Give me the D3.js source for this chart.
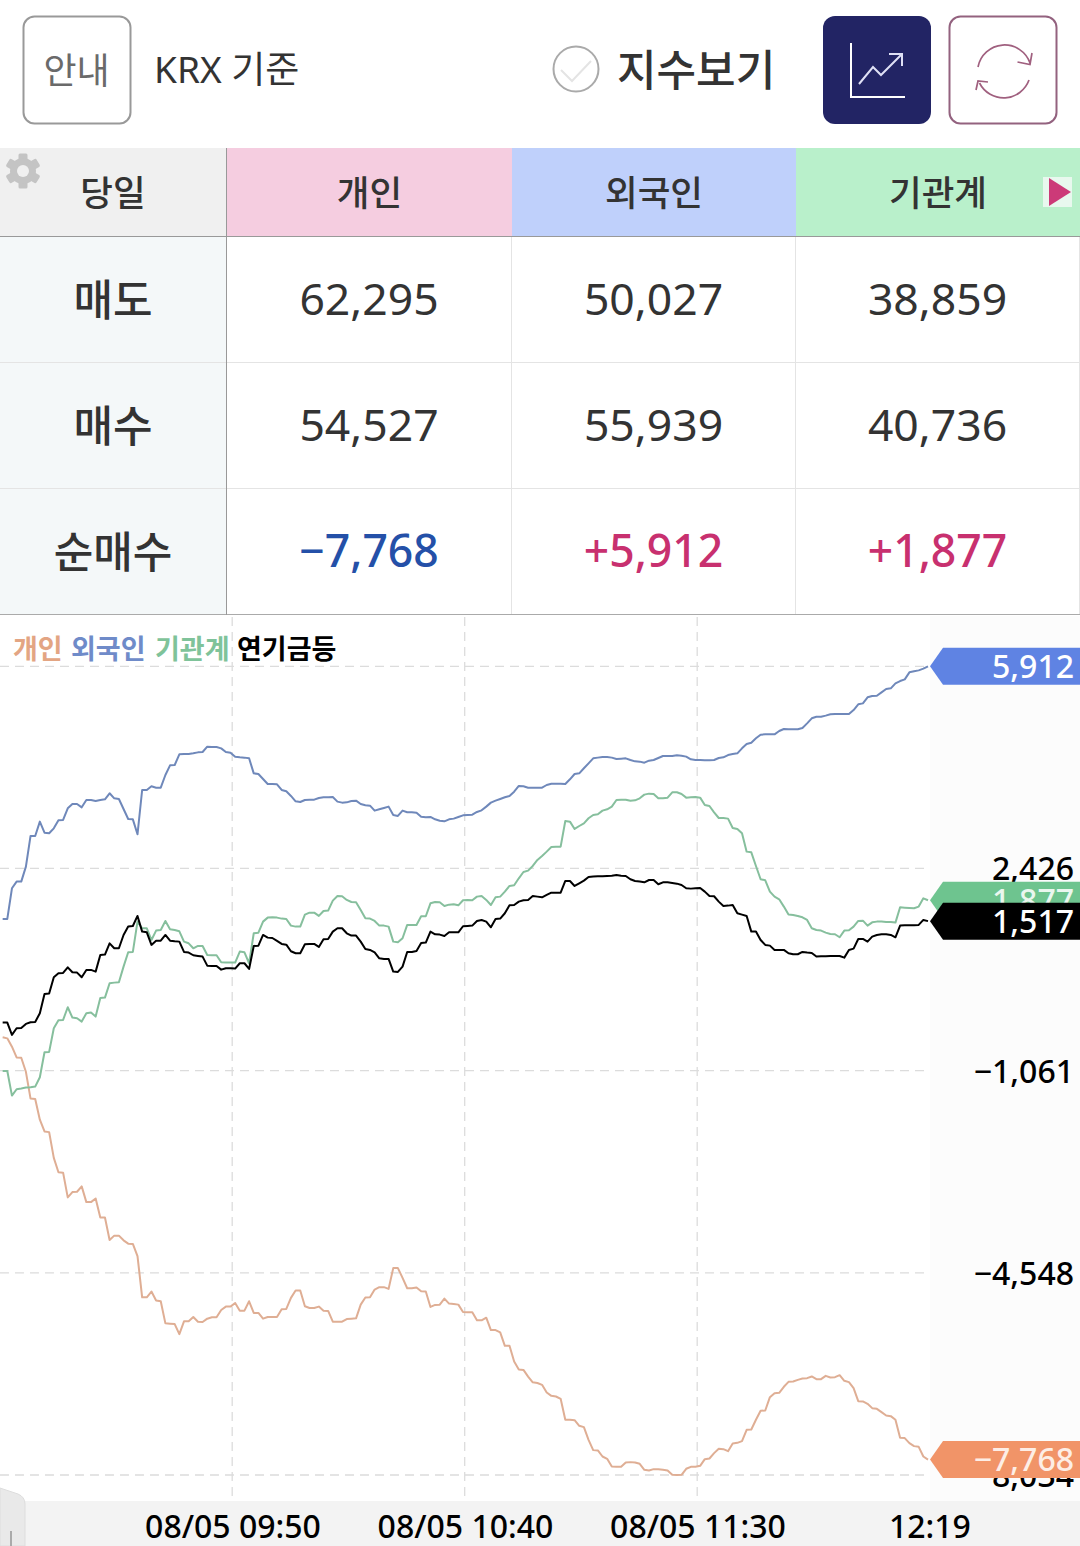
<!DOCTYPE html>
<html>
<head>
<meta charset="utf-8">
<script src="https://cdn.jsdelivr.net/npm/d3@7"></script>
<style>
  html, body { margin: 0; padding: 0; background: #fff; }
  svg { display: block; }
  text { font-family: "Noto Sans", "Noto Sans CJK KR", sans-serif; }
</style>
</head>
<body>
<svg id="chart" width="1080" height="1546"></svg>
<script>
// table
const headerLabels = ["당일", "개인", "외국인", "기관계"];
const headerFills = ["#f0f0f0", "#f5cde0", "#bfd0fb", "#b9f0cb"];
const rowLabels = ["매도", "매수", "순매수"];
const sellValues = ["62,295", "50,027", "38,859"];
const buyValues = ["54,527", "55,939", "40,736"];
const netValues = ["−7,768", "+5,912", "+1,877"];

// chart, one sample per minute
const foreignValues = [
  1555,1555,2084,2199,2199,2457,2986,2986,3233,3043,3032,3118,3256,3262,3463,3538,3538,3480,3607,3607,
  3589,3607,3618,3722,3635,3624,3451,3279,3273,3015,3779,3779,3842,3819,3819,4038,4204,4210,4394,4400,
  4400,4411,4428,4434,4526,4520,4520,4497,4434,4423,4354,4342,4337,4325,4066,4055,3969,3882,3882,3877,
  3779,3756,3676,3584,3572,3607,3612,3612,3641,3653,3653,3658,3578,3561,3566,3589,3595,3538,3515,3509,
  3423,3446,3469,3492,3348,3331,3423,3394,3394,3388,3319,3308,3314,3273,3250,3239,3273,3285,3314,3342,
  3348,3354,3400,3428,3492,3561,3595,3624,3653,3676,3750,3848,3842,3819,3819,3819,3819,3865,3888,3888,
  3888,3882,3963,4055,4066,4153,4239,4325,4337,4348,4348,4337,4314,4319,4325,4296,4273,4268,4250,4285,
  4296,4331,4365,4365,4365,4377,4371,4354,4308,4296,4296,4291,4291,4296,4331,4342,4382,4400,4411,4497,
  4572,4595,4670,4733,4739,4739,4739,4796,4831,4825,4825,4825,4848,4928,5015,5043,5043,5061,5084,5089,
  5089,5089,5089,5158,5256,5273,5377,5400,5405,5463,5520,5532,5618,5658,5687,5808,5825,5842,5871,5912
];
const pensionValues = [
  -232,-232,-445,-330,-324,-255,-227,-221,-71,262,268,549,618,624,721,635,630,549,676,676,
  647,934,940,1135,1049,1049,1279,1423,1434,1607,1337,1325,1107,1181,1181,1279,1181,1170,1164,986,
  975,929,917,906,750,745,745,681,704,704,699,791,791,693,1089,1095,1279,1233,1227,1176,
  1124,1112,998,963,963,1118,1124,1124,1072,1204,1210,1337,1394,1394,1308,1268,1268,1164,1038,1021,
  980,877,865,865,647,641,733,986,986,1003,1141,1147,1337,1291,1285,1262,1325,1325,1325,1429,
  1434,1440,1521,1538,1509,1411,1555,1561,1653,1790,1796,1854,1877,1883,1951,1940,1928,1969,2009,2009,
  2009,2210,2210,2124,2170,2216,2279,2285,2291,2291,2296,2302,2314,2302,2296,2239,2210,2199,2187,2227,
  2227,2153,2187,2187,2176,2164,2141,2084,2078,2084,2089,2026,1951,1946,1854,1779,1785,1796,1653,1630,
  1607,1337,1337,1193,1107,1095,1021,1021,1021,963,946,946,986,975,969,906,911,911,917,917,
  917,888,1021,1043,1210,1210,1164,1250,1279,1291,1291,1279,1239,1440,1446,1446,1446,1452,1538,1517
];
const institutionValues = [
  -1066,-1066,-1491,-1382,-1370,-1353,-1347,-1336,-1175,-744,-738,-330,-192,-186,32,-146,-158,-215,-71,-60,
  -129,193,199,446,457,463,733,980,986,1509,1394,1394,1193,1354,1365,1521,1377,1365,1342,1164,
  1135,1049,1089,1089,934,929,929,808,802,802,802,992,980,791,1308,1319,1509,1578,1584,1578,
  1561,1555,1440,1423,1423,1630,1664,1664,1607,1693,1699,1871,1951,1946,1883,1848,1842,1710,1566,1561,
  1521,1440,1440,1423,1164,1153,1222,1452,1452,1452,1601,1601,1825,1848,1842,1779,1802,1808,1790,1877,
  1883,1877,1940,1951,1883,1796,1928,1940,2026,2124,2135,2256,2365,2388,2469,2572,2641,2716,2796,2802,
  2802,3245,3233,3107,3158,3204,3291,3348,3360,3423,3446,3492,3607,3612,3612,3595,3601,3635,3699,3716,
  3710,3635,3635,3647,3739,3739,3710,3647,3653,3658,3647,3520,3503,3394,3296,3296,3285,3124,3107,3032,
  2716,2704,2469,2239,2222,2026,1940,1894,1768,1630,1624,1607,1584,1538,1394,1365,1354,1319,1296,1291,
  1239,1354,1360,1423,1521,1526,1440,1497,1509,1509,1503,1503,1492,1756,1750,1745,1739,1768,1911,1877
];
const individualValues = [
  -486,-504,-648,-833,-839,-1081,-1543,-1549,-1907,-2109,-2121,-2566,-2814,-2820,-3247,-3155,-3149,-3057,-3328,-3328,
  -3265,-3594,-3594,-3981,-3906,-3906,-3987,-4044,-4050,-4258,-4969,-4969,-4870,-5026,-5038,-5419,-5425,-5431,-5604,-5384,
  -5384,-5309,-5390,-5396,-5338,-5315,-5315,-5188,-5130,-5130,-5067,-5200,-5200,-5038,-5240,-5240,-5338,-5309,-5309,-5309,
  -5177,-5171,-4980,-4853,-4853,-5124,-5153,-5153,-5130,-5200,-5205,-5390,-5390,-5390,-5344,-5338,-5332,-5096,-4974,-4969,
  -4836,-4795,-4795,-4824,-4466,-4466,-4634,-4813,-4813,-4801,-4865,-4870,-5136,-5101,-5096,-4992,-5078,-5084,-5096,-5223,
  -5228,-5228,-5367,-5367,-5321,-5535,-5535,-5575,-5806,-5806,-6078,-6216,-6222,-6337,-6436,-6447,-6479,-6611,-6669,-6680,
  -6720,-7082,-7082,-7088,-7186,-7209,-7427,-7605,-7611,-7715,-7755,-7887,-7893,-7893,-7818,-7812,-7818,-7841,-7944,-7956,
  -7933,-7933,-7944,-7956,-8031,-8036,-8031,-7927,-7893,-7893,-7876,-7761,-7749,-7657,-7582,-7588,-7623,-7490,-7479,-7450,
  -7255,-7249,-7082,-6927,-6921,-6692,-6623,-6617,-6513,-6427,-6421,-6393,-6370,-6364,-6335,-6381,-6381,-6324,-6352,-6347,
  -6312,-6410,-6433,-6536,-6761,-6766,-6807,-6881,-6893,-6950,-7008,-7019,-7082,-7393,-7398,-7485,-7536,-7548,-7715,-7768
];

const yTicks = [5912, 2426, -1061, -4548, -8034];
const xTicks = [50, 100, 150, 199];
const xTickLabels = ["08/05 09:50", "08/05 10:40", "08/05 11:30", "12:19"];
const legendNames = ["개인", "외국인", "기관계", "연기금등"];
const legendColors = ["#e3a583", "#6f8bc9", "#7fc39a", "#000"];

const svg = d3.select("#chart");
const num = d3.format(",");
const signed = v => num(v).replace("-", "−");

// ---- top bar
const topBar = svg.append("g");
topBar.append("rect").attr("x", 23.5).attr("y", 16.5).attr("width", 107).attr("height", 107).attr("rx", 11)
  .attr("fill", "#fff").attr("stroke", "#999").attr("stroke-width", 2);
topBar.append("text").attr("x", 76.5).attr("y", 84).attr("text-anchor", "middle")
  .attr("font-size", 36).attr("fill", "#6a6a6a").text("안내");
topBar.append("text").attr("x", 154).attr("y", 83)
  .attr("font-size", 37).attr("fill", "#333").text("KRX 기준");
topBar.append("circle").attr("cx", 576).attr("cy", 69).attr("r", 22.5)
  .attr("fill", "#fff").attr("stroke", "#aaa").attr("stroke-width", 2);
topBar.append("path").attr("d", "M561,70 L572,81 L591,61").attr("fill", "none")
  .attr("stroke", "#e4e4e4").attr("stroke-width", 2);
topBar.append("text").attr("x", 617).attr("y", 86)
  .attr("font-size", 43).attr("font-weight", 500).attr("fill", "#333").text("지수보기");

topBar.append("rect").attr("x", 823).attr("y", 16).attr("width", 108).attr("height", 108).attr("rx", 12).attr("fill", "#222464");
topBar.append("path").attr("d", "M851,43 V97 H905").attr("fill", "none").attr("stroke", "#fff").attr("stroke-width", 2);
topBar.append("path").attr("d", "M859,84 L873,67 L881,75 L902,54 M889,54 H902 V66").attr("fill", "none")
  .attr("stroke", "#dfe0f5").attr("stroke-width", 2);

topBar.append("rect").attr("x", 949.5).attr("y", 16.5).attr("width", 107).attr("height", 107).attr("rx", 11)
  .attr("fill", "#fff").attr("stroke", "#93627f").attr("stroke-width", 2);
topBar.append("path").attr("d", "M978,67 A27,27 0 0 1 1030,63 M1017.5,62 L1030,64.5 L1032,53 M1029,80 A27,27 0 0 1 979.5,83 M988,82 L978,81 L976,90")
  .attr("fill", "none").attr("stroke", "#a0607f").attr("stroke-width", 1.7);

// ---- table
const colX = [0, 227, 512, 796, 1080];
const rowY = [237, 363, 489, 615];
const table = svg.append("g");

table.selectAll("rect.head").data(headerFills).join("rect").attr("class", "head")
  .attr("x", (d, i) => colX[i]).attr("y", 148)
  .attr("width", (d, i) => colX[i + 1] - colX[i]).attr("height", 88)
  .attr("fill", d => d);
table.selectAll("text.head").data(headerLabels).join("text").attr("class", "head")
  .attr("x", (d, i) => i == 0 ? 113 : (colX[i] + colX[i + 1]) / 2)
  .attr("y", 206).attr("text-anchor", "middle")
  .attr("font-size", 35.5).attr("font-weight", 500).attr("fill", "#333").text(d => d);

table.append("rect").attr("x", 0).attr("y", 237).attr("width", 226).attr("height", 377).attr("fill", "#f4f8f9");
table.selectAll("text.row").data(rowLabels).join("text").attr("class", "row")
  .attr("x", 113).attr("y", (d, i) => rowY[i] + 79).attr("text-anchor", "middle")
  .attr("font-size", 43).attr("font-weight", 500).attr("fill", "#333").text(d => d);

[sellValues, buyValues, netValues].forEach((vals, r) => {
  table.selectAll("text.r" + r).data(vals).join("text").attr("class", "r" + r)
    .attr("x", (d, i) => (colX[i + 1] + colX[i + 2]) / 2 - 0.5)
    .attr("y", rowY[r] + 78).attr("text-anchor", "middle").attr("font-size", 44.5)
    .attr("font-weight", d => (d[0] == "−" || d[0] == "+") ? 500 : 400)
    .attr("fill", d => d[0] == "−" ? "#2450a8" : d[0] == "+" ? "#c8306f" : "#333")
    .text(d => d);
});

table.selectAll("line.rule").data([[236.5, "#999"], [362.5, "#e4e4e4"], [488.5, "#e4e4e4"], [614.5, "#aaa"]]).join("line")
  .attr("class", "rule").attr("x1", 0).attr("x2", 1080).attr("y1", d => d[0]).attr("y2", d => d[0]).attr("stroke", d => d[1]);
table.selectAll("line.col").data([511.5, 795.5, 1079.5]).join("line").attr("class", "col")
  .attr("x1", d => d).attr("x2", d => d).attr("y1", 237).attr("y2", 614).attr("stroke", "#e4e4e4");
table.append("line").attr("x1", 226.5).attr("x2", 226.5).attr("y1", 148).attr("y2", 615).attr("stroke", "#999");

// gear
const gear = table.append("g").attr("transform", "translate(23,171)").attr("fill", "#c4c4c4");
gear.selectAll("rect").data(d3.range(3)).join("rect")
  .attr("x", -4.5).attr("y", -17.5).attr("width", 9).attr("height", 35).attr("rx", 1.5)
  .attr("transform", d => `rotate(${d * 60})`);
gear.append("circle").attr("r", 13);
gear.append("circle").attr("r", 6).attr("fill", "#f0f0f0");

// arrow
table.append("rect").attr("x", 1043).attr("y", 177).attr("width", 29).attr("height", 30).attr("fill", "#e8f8ee");
table.append("path").attr("d", "M1049,178 L1071,192 L1049,206 Z").attr("fill", "#cc3a78");

// ---- chart
const x = d3.scaleLinear().domain([0, 200]).range([0, 930]);
const y = d3.scaleLinear().domain([5912, -8034]).range([666.3, 1475]);

svg.append("rect").attr("x", 930).attr("y", 616).attr("width", 150).attr("height", 885).attr("fill", "#fcfcfc");
svg.append("rect").attr("x", 0).attr("y", 1501).attr("width", 1080).attr("height", 45).attr("fill", "#f3f3f3");

svg.append("g").selectAll("line").data(yTicks).join("line")
  .attr("x1", 0).attr("x2", 930).attr("y1", d => y(d)).attr("y2", d => y(d))
  .attr("stroke", "#dcdcdc").attr("stroke-width", 1.3).attr("stroke-dasharray", "9,6");
svg.append("g").selectAll("line").data(xTicks.slice(0, 3)).join("line")
  .attr("x1", d => x(d) - 0.3).attr("x2", d => x(d) - 0.3).attr("y1", 617).attr("y2", 1501)
  .attr("stroke", "#dcdcdc").attr("stroke-width", 1.3).attr("stroke-dasharray", "9,6");

const line = d3.line().x((d, i) => x(i + 0.57)).y(d => y(d));
const seriesList = [
  [individualValues, "#dfae94", 2],
  [foreignValues, "#6f88ba", 2],
  [institutionValues, "#86bf9d", 2],
  [pensionValues, "#000", 2]
];
svg.append("g").selectAll("path").data(seriesList).join("path")
  .attr("d", d => line(d[0])).attr("fill", "none")
  .attr("stroke", d => d[1]).attr("stroke-width", d => d[2]).attr("stroke-linejoin", "round");

// legend
const legendX = [13, 71, 155, 237];
svg.append("g").selectAll("text").data(legendNames).join("text")
  .attr("x", (d, i) => legendX[i]).attr("y", 659)
  .attr("font-size", 27).attr("font-weight", 700)
  .attr("fill", (d, i) => legendColors[i]).text(d => d);

// y axis labels
const yAxis = d3.axisLeft(y).tickValues(yTicks).tickSize(0).tickPadding(0).tickFormat(signed);
const yAxisG = svg.append("g").attr("transform", "translate(1074,0)").call(yAxis);
yAxisG.select(".domain").remove();
yAxisG.attr("font-family", null).attr("font-size", null);
yAxisG.selectAll("text").attr("font-size", 32).attr("font-weight", 500).attr("fill", "#000").attr("dy", "0.36em");

// x axis labels
const xAxis = d3.axisBottom(x).tickValues(xTicks).tickSize(0).tickPadding(0)
  .tickFormat((d, i) => xTickLabels[i]);
const xAxisG = svg.append("g").attr("transform", "translate(0,1503)").call(xAxis);
xAxisG.select(".domain").remove();
xAxisG.attr("font-family", null).attr("font-size", null);
xAxisG.selectAll("text").attr("font-size", 32).attr("font-weight", 500).attr("fill", "#000").attr("y", 12).attr("dx", (d, i) => i == 3 ? 4 : 0);

// end tags
const tagShape = d3.line();
const tags = [
  [5912, "#5f83e3", "#fff"],
  [1877, "#6ec48f", "#eaf7ef"],
  [1517, "#000", "#fff"],
  [-7768, "#f19468", "#fdeee6"]
];
tags.forEach(t => {
  const c = y(t[0]);
  svg.append("path")
    .attr("d", tagShape([[930, c], [943, c - 18.5], [1080, c - 18.5], [1080, c + 18.5], [943, c + 18.5]]) + "Z")
    .attr("fill", t[1]);
  svg.append("text").attr("x", 1074).attr("y", c).attr("dy", "0.36em").attr("text-anchor", "end")
    .attr("font-size", 32).attr("font-weight", 500).attr("fill", t[2]).text(signed(t[0]));
});

// pull tab in the corner
svg.append("path").attr("d", "M0,1488 L18,1494 Q25,1497 25,1504 V1546 H0 Z").attr("fill", "#e9e9e9").attr("stroke", "#ddd");
svg.append("line").attr("x1", 11).attr("x2", 11).attr("y1", 1531).attr("y2", 1546).attr("stroke", "#aaa").attr("stroke-width", 2);
</script>
</body>
</html>
